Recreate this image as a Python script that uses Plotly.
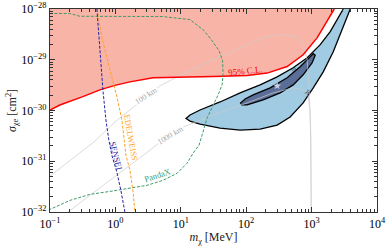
import plotly.graph_objects as go

# ---- data (log10 units: log10(m/MeV), log10(sigma/cm^2)) ----
red_log_m = [-1.0, -0.85, -0.498, -0.237, -0.008, 0.222, 0.574, 0.988, 1.493, 2.014,
             2.32, 2.626, 2.871, 3.086, 3.239, 3.346]
red_log_s = [-29.99, -29.891, -29.727, -29.594, -29.505, -29.436, -29.356, -29.35, -29.331,
             -29.311, -29.263, -29.133, -28.901, -28.564, -28.242, -28.0]

panda_log_m = [-1.003, -0.697, -0.544, 0.222, 0.727, 0.988, 1.141, 1.355, 1.478, 1.585, 1.639,
               1.646, 1.631, 1.57, 1.493, 1.401, 1.325, 1.279, 1.187, 1.095, 0.942, 0.727,
               0.482, 0.222, -0.084, -0.391, -0.697, -1.003]
panda_log_s = [-28.089, -28.089, -28.143, -28.143, -28.149, -28.188, -28.208, -28.426, -28.624,
               -28.822, -29.02, -29.297, -29.495, -29.693, -29.891, -30.149, -30.485, -30.683,
               -30.842, -31.04, -31.238, -31.376, -31.475, -31.535, -31.594, -31.653, -31.772,
               -31.95]

edel_log_m = [-0.283, -0.207, -0.13, -0.054, 0.023, 0.1, 0.13, 0.161, 0.222, 0.268, 0.299]
edel_log_s = [-28.0, -28.564, -28.96, -29.337, -29.733, -30.188, -30.584, -30.881, -31.178,
              -31.574, -32.0]

sensei_log_m = [-0.283, -0.237, -0.191, -0.145, -0.1, -0.054, 0.023, 0.084, 0.145]
sensei_log_s = [-28.0, -28.802, -29.594, -30.188, -30.584, -30.881, -31.218, -31.574, -32.0]

km100_log_m = [-1.003, -0.666, -0.314, -0.008, 0.299, 0.681, 1.064, 1.493, 1.753, 2.259, 2.519,
               2.779, 2.871, 2.933, 2.963, 2.985, 2.995]
km100_log_s = [-31.297, -30.96, -30.604, -30.228, -29.911, -29.515, -29.257, -29.0, -28.861,
               -28.564, -28.505, -28.545, -28.703, -29.0, -29.594, -30.386, -32.0]

km1000_log_m = [-0.727, -0.391, 0.115, 0.528, 0.681, 1.034, 1.493, 2.014, 2.412, 2.718, 2.871,
                2.948, 2.975, 2.988, 2.995]
km1000_log_s = [-32.0, -31.673, -31.198, -30.782, -30.624, -30.327, -30.089, -29.851, -29.653,
                -29.554, -29.594, -29.713, -29.99, -30.584, -32.0]

outer_log_m = [3.484, 3.407, 3.285, 3.132, 2.933, 2.718, 2.473, 2.213, 1.907, 1.6, 1.294, 1.141,
               1.08, 1.141, 1.294, 1.6, 1.907, 2.213, 2.473, 2.672, 2.871, 3.025, 3.178, 3.331,
               3.438, 3.545, 3.591]
outer_log_s = [-28.0, -28.168, -28.446, -28.703, -28.96, -29.158, -29.337, -29.495, -29.653,
               -29.832, -29.99, -30.089, -30.158, -30.208, -30.267, -30.347, -30.386, -30.366,
               -30.287, -30.129, -29.851, -29.554, -29.238, -28.842, -28.505, -28.168, -28.0]

inner_log_m = [1.907, 1.983, 2.106, 2.366, 2.626, 2.825, 2.979, 3.025, 3.055, 3.009, 2.871,
               2.718, 2.519, 2.259, 2.014, 1.922]
inner_log_s = [-29.861, -29.772, -29.693, -29.554, -29.356, -29.139, -28.941, -28.881, -28.911,
               -29.059, -29.297, -29.495, -29.653, -29.792, -29.891, -29.891]

best_log_m = [2.473]
best_log_s = [-29.515]

x_tick_exp = [-1, 0, 1, 2, 3, 4]
y_tick_exp = [-32, -31, -30, -29, -28]


def lin(a):
    return [10 ** v for v in a]


FONT = "Liberation Serif"
fig = go.Figure()

# red excluded region
fig.add_trace(go.Scatter(x=lin(red_log_m + [-1.0]), y=lin(red_log_s + [-28.0]), mode="lines",
                         fill="toself", fillcolor="#f9b4a8", line=dict(width=0),
                         hoverinfo="skip", showlegend=False))
# contours
fig.add_trace(go.Scatter(x=lin(outer_log_m), y=lin(outer_log_s), mode="lines", fill="toself",
                         fillcolor="#a0cbe3", line=dict(color="black", width=1.3),
                         showlegend=False))
fig.add_trace(go.Scatter(x=lin(inner_log_m), y=lin(inner_log_s), mode="lines", fill="toself",
                         fillcolor="#5a6e98", line=dict(color="black", width=1.3),
                         showlegend=False))
# gray distance lines
for lm, ls in [(km100_log_m, km100_log_s), (km1000_log_m, km1000_log_s)]:
    fig.add_trace(go.Scatter(x=lin(lm), y=lin(ls), mode="lines",
                             line=dict(color="#cccccc", width=0.7), showlegend=False))
# red boundary line
fig.add_trace(go.Scatter(x=lin(red_log_m), y=lin(red_log_s), mode="lines",
                         line=dict(color="#ff0000", width=1.5), showlegend=False))
# experiments
fig.add_trace(go.Scatter(x=lin(panda_log_m), y=lin(panda_log_s), mode="lines",
                         line=dict(color="#3f9a66", width=1, dash="3px,1.6px"), showlegend=False))
fig.add_trace(go.Scatter(x=lin(edel_log_m), y=lin(edel_log_s), mode="lines",
                         line=dict(color="#ff9f22", width=1, dash="3px,1.6px"), showlegend=False))
fig.add_trace(go.Scatter(x=lin(sensei_log_m), y=lin(sensei_log_s), mode="lines",
                         line=dict(color="#2323a6", width=1, dash="3px,1.6px"), showlegend=False))
# best fit
fig.add_trace(go.Scatter(x=lin(best_log_m), y=lin(best_log_s), mode="markers",
                         marker=dict(symbol="star", size=6, color="#c9d0df",
                                     line=dict(width=0)), showlegend=False))

ann = [
    ("95% C.L.", 1.991, -29.218, -6, "#ff0000", 9, None),
    ("100 km", 0.482, -29.713, -33, "#a8a8a8", 8, "white"),
    ("1000 km", 0.835, -30.485, -31, "#a8a8a8", 8, "white"),
    ("PandaX", 0.651, -31.277, -18, "#3f9a66", 8.5, None),
    ("SENSEI", 0.008, -30.901, 76, "#2323a6", 8.5, None),
    ("EDELWEISS", 0.237, -30.545, 80, "#ff9f22", 8.5, None),
    ("1σ", 2.718, -29.178, -40, "#1a1a2a", 5.5, None),
    ("2σ", 2.933, -29.634, -60, "#1a1a2a", 5.5, None),
]
for t, x, y, a, c, s, bg in ann:
    fig.add_annotation(x=x, y=y, xref="x", yref="y", text=t, textangle=a, showarrow=False,
                       font=dict(family=FONT, size=s, color=c),
                       bgcolor=bg if bg else "rgba(0,0,0,0)", borderpad=0)

minor_x = [k * 10.0 ** d for d in range(-1, 4) for k in range(2, 10)]
minor_y = [k * 10.0 ** d for d in range(-32, -28) for k in range(2, 10)]

axis_common = dict(type="log", showgrid=False, zeroline=False, showline=True,
                   linecolor="#333333", linewidth=1.3, mirror="allticks", ticks="inside",
                   ticklen=5, tickwidth=1, tickcolor="#333333",
                   tickfont=dict(family=FONT, size=12, color="black"))

fig.update_xaxes(**axis_common, range=[-1, 4], tickmode="array",
                 tickvals=[10.0 ** e for e in x_tick_exp],
                 ticktext=["10<sup>%s</sup>" % str(e).replace("-", "−") for e in x_tick_exp],
                 minor=dict(tickmode="array", tickvals=minor_x, ticks="inside", ticklen=2.5,
                            tickwidth=0.8, tickcolor="#333333", showgrid=False),
                 title=dict(text="<i>m</i><sub>χ</sub> [MeV]", standoff=4,
                            font=dict(family=FONT, size=12, color="#222")))
fig.update_yaxes(**axis_common, range=[-32, -28], tickmode="array",
                 tickvals=[10.0 ** e for e in y_tick_exp],
                 ticktext=["10<sup>%s</sup>" % str(e).replace("-", "−") for e in y_tick_exp],
                 minor=dict(tickmode="array", tickvals=minor_y, ticks="inside", ticklen=2.5,
                            tickwidth=0.8, tickcolor="#333333", showgrid=False),
                 title=dict(text="<i>σ</i><sub>χe</sub> [cm<sup>2</sup>]", standoff=2,
                            font=dict(family=FONT, size=12, color="#222")))

fig.update_layout(width=390, height=246, margin=dict(l=50, r=13, t=9, b=34, autoexpand=False),
                  plot_bgcolor="white", paper_bgcolor="white", showlegend=False)

fig.write_html("out.html", config={"displayModeBar": False},
               post_script="document.body.style.margin='0';")
